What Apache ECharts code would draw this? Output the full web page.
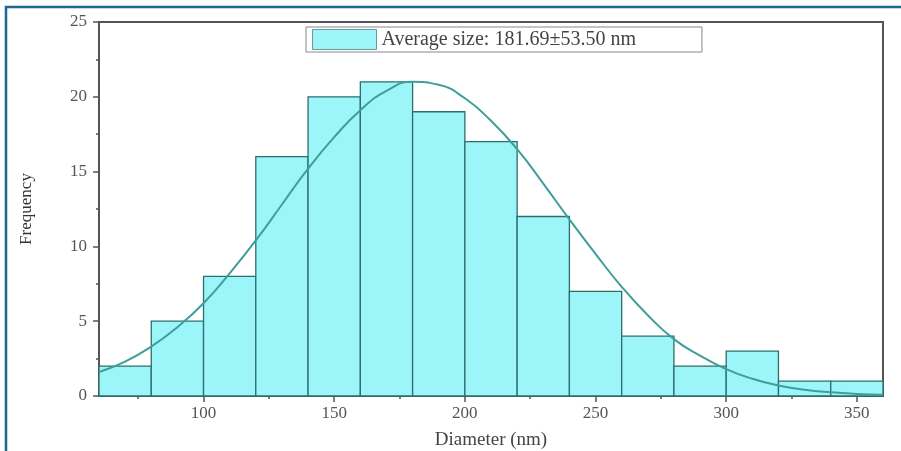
<!DOCTYPE html>
<html>
<head>
<meta charset="utf-8">
<script src="https://cdn.jsdelivr.net/npm/echarts@6/dist/echarts.min.js"></script>
<style>
html,body{margin:0;padding:0;background:#fff;}
#chart{width:901px;height:451px;}
</style>
</head>
<body>
<div id="chart"></div>
<script>
// Histogram bins (nm) and counts
var binStarts = [60, 80, 100, 120, 140, 160, 180, 200, 220, 240, 260, 280, 300, 320, 340];
var binWidth = 20;
var counts = [2, 5, 8, 16, 20, 21, 19, 17, 12, 7, 4, 2, 3, 1, 1];
// Fitted curve
var curveX = [60, 70, 80, 90, 100, 110, 120, 130, 140, 150, 160, 170, 180, 190, 200, 210, 220, 230, 240, 250, 260, 270, 280, 290, 300, 310, 320, 330, 340, 350, 360];
var curveY = [1.6, 2.3, 3.3, 4.6, 6.2, 8.2, 10.4, 12.8, 15.2, 17.3, 19.1, 20.4, 21.0, 20.8, 19.9, 18.4, 16.5, 14.2, 11.8, 9.5, 7.3, 5.4, 3.8, 2.7, 1.8, 1.15, 0.7, 0.42, 0.25, 0.14, 0.08];
var xLabels = [100, 150, 200, 250, 300, 350];
var xMinorTicks = [75, 125, 175, 225, 275, 325];
var legendName = 'Average size: 181.69\u00b153.50 nm';

var font = '"Liberation Serif", "DejaVu Serif", serif';
var axisCol = '#555';

var barData = binStarts.map(function (s, i) { return [s, s + binWidth, counts[i]]; });
var curveData = curveX.map(function (x, i) { return [x, curveY[i]]; });

var chart = echarts.init(document.getElementById('chart'));
chart.setOption({
  animation: false,
  backgroundColor: '#fff',
  grid: {
    left: 99, right: 18, top: 22, bottom: 55,
    outerBoundsMode: 'none', containLabel: false,
    show: true, borderColor: axisCol, borderWidth: 2, backgroundColor: 'transparent'
  },
  legend: {
    left: 306, top: 27,
    data: [{ name: legendName, icon: 'rect', itemStyle: { color: '#9cf6f9', borderColor: '#6a9a9a', borderWidth: 1 } }],
    itemWidth: 64, itemHeight: 20, itemGap: 8,
    borderColor: '#888', borderWidth: 1, padding: [2, 66, 2, 6],
    textStyle: { fontFamily: font, fontSize: 20, color: '#444' }
  },
  xAxis: [{
    type: 'value', min: 60, max: 360,
    name: 'Diameter (nm)', nameLocation: 'middle', nameGap: 35,
    nameTextStyle: { fontFamily: font, fontSize: 19, color: '#444' },
    axisLine: { show: true, onZero: false, lineStyle: { color: axisCol, width: 2 } },
    axisTick: { show: true, customValues: xLabels, length: 6, lineStyle: { color: axisCol, width: 1.5 } },
    axisLabel: { customValues: xLabels, fontFamily: font, fontSize: 17, color: '#555', margin: 9 },
    splitLine: { show: false }
  }, {
    type: 'value', min: 60, max: 360, position: 'bottom',
    axisLine: { show: false },
    axisTick: { show: true, customValues: xMinorTicks, length: 3, lineStyle: { color: axisCol, width: 1.5 } },
    axisLabel: { show: false },
    splitLine: { show: false }
  }],
  yAxis: {
    type: 'value', min: 0, max: 25, interval: 5,
    name: 'Frequency', nameLocation: 'middle', nameGap: 64,
    nameTextStyle: { fontFamily: font, fontSize: 17, color: '#333' },
    axisLine: { show: true, lineStyle: { color: axisCol, width: 2 } },
    axisTick: { show: true, length: 6, lineStyle: { color: axisCol, width: 1.5 } },
    minorTick: { show: true, splitNumber: 2, length: 3, lineStyle: { color: axisCol, width: 1.5 } },
    axisLabel: { fontFamily: font, fontSize: 17, color: '#555', margin: 12 },
    splitLine: { show: false }
  },
  graphic: [{
    type: 'polyline', silent: true, z: 100,
    shape: { points: [[6, 460], [6, 7], [910, 7]] },
    style: { stroke: '#1d6690', lineWidth: 2.5, fill: null }
  }],
  series: [{
    name: legendName,
    type: 'custom',
    xAxisIndex: 0,
    itemStyle: { color: '#9cf6f9', borderColor: '#2d6d6d', borderWidth: 1.3 },
    encode: { x: [0, 1], y: 2 },
    data: barData,
    renderItem: function (params, api) {
      var p0 = api.coord([api.value(0), 0]);
      var p1 = api.coord([api.value(1), api.value(2)]);
      return {
        type: 'rect',
        shape: { x: p0[0], y: p1[1], width: p1[0] - p0[0], height: p0[1] - p1[1] },
        style: { fill: '#9cf6f9', stroke: '#2d6d6d', lineWidth: 1.3 }
      };
    }
  }, {
    name: 'fit',
    type: 'line',
    xAxisIndex: 0,
    data: curveData,
    smooth: true,
    showSymbol: false,
    lineStyle: { color: '#3f9e9a', width: 2 },
    z: 5
  }]
});
</script>
</body>
</html>
